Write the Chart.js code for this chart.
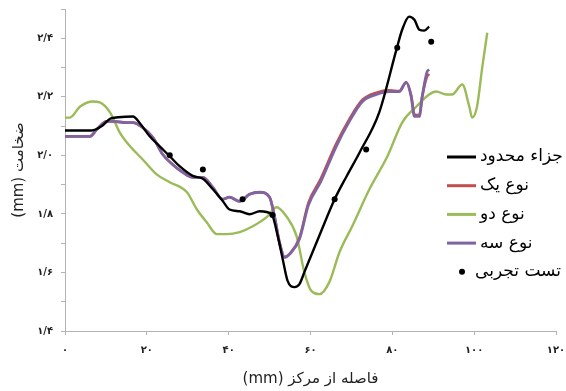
<!DOCTYPE html>
<html lang="fa">
<head>
<meta charset="utf-8">
<script src="https://cdn.jsdelivr.net/npm/chart.js"></script>
<style>
  html, body { margin: 0; padding: 0; background: #fff; }
  #wrap { width: 566px; height: 391px; }
</style>
</head>
<body>
<div id="wrap"><canvas id="thickness-chart" width="566" height="391" dir="rtl"></canvas></div>
<script>
// distance from centre (mm) and thickness (mm) for each profile
const labels = ['جزاء محدود', 'نوع یک', 'نوع دو', 'نوع سه', 'تست تجربی'];

const feX = [0, 6.5, 9, 11, 13, 16.6, 18.3, 20.7, 23.2, 25.6, 28, 31.2, 33.7, 36.1, 38.5, 40.2, 42.7, 45.1, 47.6, 50.5, 52, 53.2, 54.4, 56.1, 57.3, 58.5, 62.2, 65.9, 68.8, 72, 76.8, 81, 82.4, 84.1, 85.4, 86.6, 87.8, 89];
const feY = [2.085, 2.085, 2.1, 2.125, 2.13, 2.133, 2.11, 2.065, 2.03, 1.997, 1.963, 1.93, 1.92, 1.885, 1.845, 1.815, 1.809, 1.799, 1.809, 1.799, 1.724, 1.646, 1.571, 1.55, 1.56, 1.601, 1.727, 1.85, 1.928, 2.01, 2.147, 2.361, 2.429, 2.474, 2.463, 2.429, 2.426, 2.44];

const type1X = [0, 6.1, 7.8, 10.2, 11.7, 15.1, 16.6, 19, 21.5, 23.9, 26.3, 28.8, 31.2, 33.7, 36.1, 38.5, 40.2, 42.7, 45.1, 47.6, 50, 51.2, 52.4, 53.7, 54.9, 57.3, 59.5, 62.5, 66.3, 69.5, 72.7, 76.1, 79.3, 81.7, 83.4, 84.6, 85.4, 86.6, 87.3, 88.5, 89];
const type1Y = [2.065, 2.065, 2.089, 2.116, 2.116, 2.112, 2.112, 2.095, 2.061, 2.003, 1.969, 1.942, 1.925, 1.925, 1.891, 1.85, 1.857, 1.843, 1.867, 1.874, 1.857, 1.792, 1.704, 1.652, 1.663, 1.718, 1.838, 1.92, 2.04, 2.124, 2.19, 2.214, 2.222, 2.22, 2.25, 2.205, 2.14, 2.138, 2.2, 2.27, 2.278];

const type2X = [0, 1.2, 3.7, 6.8, 8.5, 11, 13.4, 15.9, 19, 22.4, 25.6, 29.8, 32.2, 34.6, 37.1, 39.5, 42.7, 45.9, 49.3, 51.7, 54.1, 56.6, 58.5, 60.2, 62.2, 64.6, 67.1, 70.2, 74.4, 78.8, 82.4, 85.9, 89, 90.7, 93.2, 94.6, 97.1, 98.8, 99.5, 100.7, 102, 103.2];
const type2Y = [2.129, 2.129, 2.167, 2.184, 2.181, 2.147, 2.078, 2.031, 1.986, 1.935, 1.908, 1.874, 1.816, 1.772, 1.731, 1.731, 1.738, 1.758, 1.789, 1.823, 1.792, 1.724, 1.601, 1.537, 1.526, 1.567, 1.67, 1.758, 1.884, 1.997, 2.112, 2.167, 2.208, 2.218, 2.208, 2.208, 2.242, 2.167, 2.129, 2.167, 2.303, 2.419];

const type3X = [0, 6.1, 7.8, 10.2, 11.7, 15.1, 16.6, 19, 21.5, 23.9, 26.3, 28.8, 31.2, 33.7, 36.1, 38.5, 40.2, 42.7, 45.1, 47.6, 50, 51.2, 52.4, 53.7, 54.9, 57.3, 59.5, 62.5, 66.3, 69.5, 72.7, 76.1, 79.3, 81.7, 83.4, 84.6, 85.4, 86.6, 87.3, 88.5, 89];
const type3Y = [2.065, 2.065, 2.089, 2.116, 2.116, 2.112, 2.112, 2.095, 2.061, 2.003, 1.969, 1.942, 1.925, 1.925, 1.891, 1.85, 1.857, 1.843, 1.867, 1.874, 1.857, 1.792, 1.704, 1.652, 1.663, 1.714, 1.83, 1.91, 2.031, 2.116, 2.184, 2.208, 2.218, 2.218, 2.249, 2.201, 2.133, 2.133, 2.201, 2.286, 2.293];

const testX = [25.6, 33.7, 43.4, 50.7, 65.9, 73.6, 81.2, 89.5];
const testY = [2.0, 1.952, 1.85, 1.796, 1.85, 2.02, 2.368, 2.388];

const xTicks = [0, 20, 40, 60, 80, 100, 120];

const toPoints = (xs, ys) => xs.map((x, i) => ({ x: x, y: ys[i] }));
const faDigits = s => String(s).replace(/\d/g, d => '۰۱۲۳۴۵۶۷۸۹'[d]);

const FONT = '"DejaVu Sans", sans-serif';

// keep the plot box fixed: no extra room for overhanging tick labels
const noOverhang = s => {
  s.paddingTop = 0;
  s.paddingBottom = 0;
  s.paddingLeft = 0;
  s.paddingRight = 0;
};

// legend is drawn by hand so it can sit over the plot like the original
const legendPlugin = {
  id: 'sideLegend',
  afterDraw(chart) {
    const ctx = chart.ctx;
    const left = 447, top = 157, gap = 28.7;
    ctx.save();
    ctx.direction = 'ltr';
    chart.data.datasets.forEach((ds, i) => {
      const y = top + i * gap;
      if (ds.showLine === false) {
        ctx.fillStyle = ds.pointBackgroundColor;
        ctx.beginPath();
        ctx.arc(left + 15, y, 3, 0, Math.PI * 2);
        ctx.fill();
      } else {
        ctx.strokeStyle = ds.borderColor;
        ctx.lineWidth = 3;
        ctx.beginPath();
        ctx.moveTo(left, y);
        ctx.lineTo(left + 29, y);
        ctx.stroke();
      }
      ctx.fillStyle = '#000';
      ctx.font = '17px ' + FONT;
      ctx.textAlign = 'left';
      ctx.textBaseline = 'middle';
      ctx.fillText(ds.label, ds.showLine === false ? left + 28 : left + 33, y);
    });
    ctx.restore();
  }
};

new Chart(document.getElementById('thickness-chart'), {
  type: 'line',
  data: {
    datasets: [
      { label: labels[0], data: toPoints(feX, feY), borderColor: '#000000', borderWidth: 2.4, order: 1 },
      { label: labels[1], data: toPoints(type1X, type1Y), borderColor: '#c0504d', borderWidth: 2.6, order: 3 },
      { label: labels[2], data: toPoints(type2X, type2Y), borderColor: '#9bbb59', borderWidth: 2.4, order: 4 },
      { label: labels[3], data: toPoints(type3X, type3Y), borderColor: '#8064a2', borderWidth: 2.8, order: 2 },
      { label: labels[4], data: toPoints(testX, testY), showLine: false, pointRadius: 3,
        pointBackgroundColor: '#000', pointBorderWidth: 0, order: 0 }
    ]
  },
  options: {
    responsive: false,
    animation: false,
    devicePixelRatio: 1,
    layout: { padding: { top: 9, right: 10, left: 0, bottom: 0 } },
    elements: {
      line: { cubicInterpolationMode: 'monotone', fill: false },
      point: { radius: 0 }
    },
    plugins: {
      legend: { display: false },
      tooltip: { enabled: false }
    },
    scales: {
      x: {
        type: 'linear',
        min: 0,
        max: 120,
        afterFit: s => { s.height = 60; noOverhang(s); },
        afterBuildTicks: s => { s.ticks = xTicks.map(v => ({ value: v })); },
        border: { color: '#b3b3b3', width: 1 },
        grid: { drawOnChartArea: false, drawTicks: true, tickLength: 4, color: '#b3b3b3' },
        ticks: {
          padding: 9,
          maxRotation: 0,
          color: '#222',
          font: { family: FONT, size: 10, weight: 'bold' },
          callback: v => faDigits(v)
        },
        title: {
          display: true,
          text: 'فاصله از مرکز (mm)',
          color: '#222',
          font: { family: FONT, size: 15 },
          padding: { top: 0, bottom: 3 }
        }
      },
      y: {
        min: 1.4,
        max: 2.5,
        afterFit: s => { s.width = 65; noOverhang(s); },
        border: { color: '#b3b3b3', width: 1 },
        grid: { drawOnChartArea: false, drawTicks: true, tickLength: 4, color: '#b3b3b3' },
        ticks: {
          stepSize: 0.1,
          padding: 8,
          color: '#222',
          font: { family: FONT, size: 10, weight: 'bold' },
          callback: v => {
            const t = Math.round(v * 10);
            return t % 2 === 0 ? faDigits((t / 10).toFixed(1)).replace('.', '/') : '';
          }
        },
        title: {
          display: true,
          text: 'ضخامت (mm)',
          color: '#222',
          font: { family: FONT, size: 15 },
          padding: { top: 10, bottom: 0 }
        }
      }
    }
  },
  plugins: [legendPlugin]
});
</script>
</body>
</html>
